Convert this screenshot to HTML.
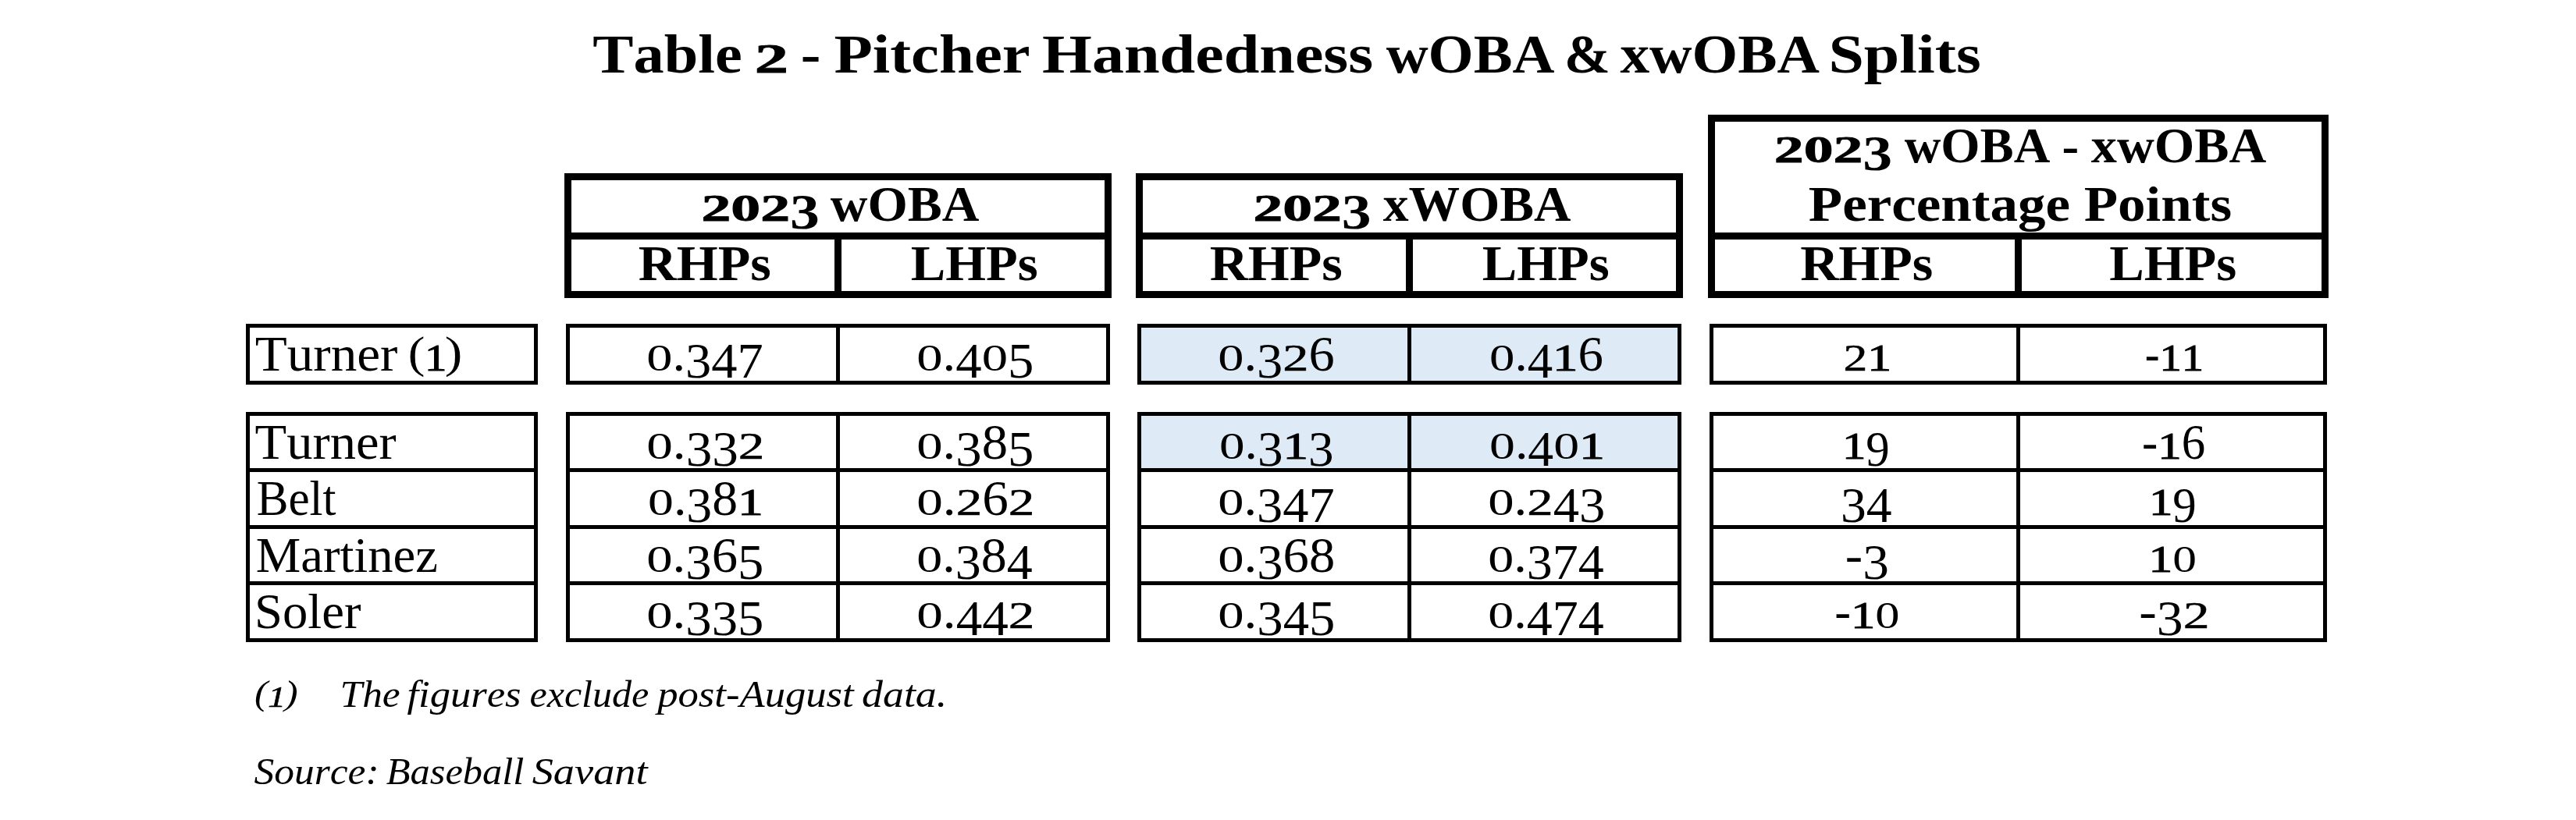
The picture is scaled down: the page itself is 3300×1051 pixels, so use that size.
<!DOCTYPE html>
<html><head><meta charset="utf-8"><title>Table 2 - Pitcher Handedness wOBA &amp; xwOBA Splits</title>
<style>
html,body{margin:0;padding:0;background:#fff;}
body{width:3300px;height:1051px;overflow:hidden;}
svg{display:block;will-change:transform;}
svg text{font-family:'Liberation Serif', 'DejaVu Serif', serif;fill:#000;}
svg text{white-space:pre;font-kerning:none;font-variant-ligatures:none;}.b{font-weight:bold;}.i{font-style:italic;}
</style></head><body>
<svg width="3300" height="1051" viewBox="0 0 3300 1051">
<rect x="0" y="0" width="3300" height="1051" fill="#fff"/>
<rect x="1457" y="415" width="697" height="78" fill="#DEEAF6"/>
<rect x="1457" y="528" width="697" height="74" fill="#DEEAF6"/>
<rect x="723" y="222" width="701" height="9"/>
<rect x="723" y="373" width="701" height="9"/>
<rect x="723" y="222" width="9" height="160"/>
<rect x="1415" y="222" width="9" height="160"/>
<rect x="723" y="298" width="701" height="9"/>
<rect x="1069" y="298" width="9" height="84"/>
<rect x="1455" y="222" width="701" height="9"/>
<rect x="1455" y="373" width="701" height="9"/>
<rect x="1455" y="222" width="9" height="160"/>
<rect x="2147" y="222" width="9" height="160"/>
<rect x="1455" y="298" width="701" height="9"/>
<rect x="1801" y="298" width="9" height="84"/>
<rect x="2188" y="147" width="795" height="9"/>
<rect x="2188" y="373" width="795" height="9"/>
<rect x="2188" y="147" width="9" height="235"/>
<rect x="2974" y="147" width="9" height="235"/>
<rect x="2188" y="298" width="795" height="9"/>
<rect x="2581" y="298" width="9" height="84"/>
<rect x="315" y="415" width="374" height="5"/>
<rect x="315" y="488" width="374" height="5"/>
<rect x="315" y="415" width="5" height="78"/>
<rect x="684" y="415" width="5" height="78"/>
<rect x="725" y="415" width="697" height="5"/>
<rect x="725" y="488" width="697" height="5"/>
<rect x="725" y="415" width="5" height="78"/>
<rect x="1417" y="415" width="5" height="78"/>
<rect x="1071" y="415" width="5" height="78"/>
<rect x="1457" y="415" width="697" height="5"/>
<rect x="1457" y="488" width="697" height="5"/>
<rect x="1457" y="415" width="5" height="78"/>
<rect x="2149" y="415" width="5" height="78"/>
<rect x="1803" y="415" width="5" height="78"/>
<rect x="2190" y="415" width="791" height="5"/>
<rect x="2190" y="488" width="791" height="5"/>
<rect x="2190" y="415" width="5" height="78"/>
<rect x="2976" y="415" width="5" height="78"/>
<rect x="2583" y="415" width="5" height="78"/>
<rect x="315" y="528" width="374" height="5"/>
<rect x="315" y="818" width="374" height="5"/>
<rect x="315" y="528" width="5" height="295"/>
<rect x="684" y="528" width="5" height="295"/>
<rect x="315" y="600" width="374" height="5"/>
<rect x="315" y="673" width="374" height="5"/>
<rect x="315" y="745" width="374" height="5"/>
<rect x="725" y="528" width="697" height="5"/>
<rect x="725" y="818" width="697" height="5"/>
<rect x="725" y="528" width="5" height="295"/>
<rect x="1417" y="528" width="5" height="295"/>
<rect x="725" y="600" width="697" height="5"/>
<rect x="725" y="673" width="697" height="5"/>
<rect x="725" y="745" width="697" height="5"/>
<rect x="1071" y="528" width="5" height="295"/>
<rect x="1457" y="528" width="697" height="5"/>
<rect x="1457" y="818" width="697" height="5"/>
<rect x="1457" y="528" width="5" height="295"/>
<rect x="2149" y="528" width="5" height="295"/>
<rect x="1457" y="600" width="697" height="5"/>
<rect x="1457" y="673" width="697" height="5"/>
<rect x="1457" y="745" width="697" height="5"/>
<rect x="1803" y="528" width="5" height="295"/>
<rect x="2190" y="528" width="791" height="5"/>
<rect x="2190" y="818" width="791" height="5"/>
<rect x="2190" y="528" width="5" height="295"/>
<rect x="2976" y="528" width="5" height="295"/>
<rect x="2190" y="600" width="791" height="5"/>
<rect x="2190" y="673" width="791" height="5"/>
<rect x="2190" y="745" width="791" height="5"/>
<rect x="2583" y="528" width="5" height="295"/>
<text class="b" font-size="70.7"><tspan x="759.38" y="92.8" textLength="210.92" lengthAdjust="spacingAndGlyphs">Table </tspan><tspan x="966.77" y="92.8" font-size="53.03" stroke="#000" stroke-width="0.8" textLength="43.25" lengthAdjust="spacingAndGlyphs">2</tspan><tspan x="1010.02" y="92.8" textLength="21.62" lengthAdjust="spacingAndGlyphs"> </tspan><tspan x="1025.88" y="92.8" textLength="44.89" lengthAdjust="spacingAndGlyphs">- </tspan><tspan x="1068.42" y="92.8" textLength="271.41" lengthAdjust="spacingAndGlyphs">Pitcher </tspan><tspan x="1335.1" y="92.8" textLength="444.62" lengthAdjust="spacingAndGlyphs">Handedness </tspan><tspan x="1775.68" y="92.8" textLength="234.44" lengthAdjust="spacingAndGlyphs">wOBA </tspan><tspan x="2004.03" y="92.8" textLength="76.47" lengthAdjust="spacingAndGlyphs">&amp; </tspan><tspan x="2075.41" y="92.8" textLength="274.4" lengthAdjust="spacingAndGlyphs">xwOBA </tspan><tspan x="2342.45" y="92.8" textLength="195.24" lengthAdjust="spacingAndGlyphs">Splits</tspan></text>
<text class="b" font-size="62.8"><tspan x="898.42" y="282.8" font-size="47.73" stroke="#000" stroke-width="0.8" textLength="37.87" lengthAdjust="spacingAndGlyphs">2</tspan><tspan x="936.29" y="282.8" font-size="47.73" stroke="#000" stroke-width="0.8" textLength="37.87" lengthAdjust="spacingAndGlyphs">0</tspan><tspan x="974.15" y="282.8" font-size="47.73" stroke="#000" stroke-width="0.8" textLength="37.87" lengthAdjust="spacingAndGlyphs">2</tspan><tspan x="1012.02" y="293.1" textLength="37.87" lengthAdjust="spacingAndGlyphs">3</tspan><tspan x="1049.89" y="282.8" textLength="18.93" lengthAdjust="spacingAndGlyphs"> </tspan><tspan x="1063.81" y="282.8" textLength="190.68" lengthAdjust="spacingAndGlyphs">wOBA</tspan></text>
<text class="b" font-size="62.8"><tspan x="1605.42" y="282.7" font-size="47.73" stroke="#000" stroke-width="0.8" textLength="37.82" lengthAdjust="spacingAndGlyphs">2</tspan><tspan x="1643.24" y="282.7" font-size="47.73" stroke="#000" stroke-width="0.8" textLength="37.82" lengthAdjust="spacingAndGlyphs">0</tspan><tspan x="1681.05" y="282.7" font-size="47.73" stroke="#000" stroke-width="0.8" textLength="37.82" lengthAdjust="spacingAndGlyphs">2</tspan><tspan x="1718.87" y="293" textLength="37.82" lengthAdjust="spacingAndGlyphs">3</tspan><tspan x="1756.69" y="282.7" textLength="18.91" lengthAdjust="spacingAndGlyphs"> </tspan><tspan x="1771.74" y="282.7" textLength="240.54" lengthAdjust="spacingAndGlyphs">xWOBA</tspan></text>
<text class="b" font-size="62.8"><tspan x="2272.82" y="207.7" font-size="47.73" stroke="#000" stroke-width="0.8" textLength="37.84" lengthAdjust="spacingAndGlyphs">2</tspan><tspan x="2310.66" y="207.7" font-size="47.73" stroke="#000" stroke-width="0.8" textLength="37.84" lengthAdjust="spacingAndGlyphs">0</tspan><tspan x="2348.5" y="207.7" font-size="47.73" stroke="#000" stroke-width="0.8" textLength="37.84" lengthAdjust="spacingAndGlyphs">2</tspan><tspan x="2386.35" y="218" textLength="37.84" lengthAdjust="spacingAndGlyphs">3</tspan><tspan x="2424.19" y="207.7" textLength="18.92" lengthAdjust="spacingAndGlyphs"> </tspan><tspan x="2439.71" y="207.7" textLength="202.71" lengthAdjust="spacingAndGlyphs">wOBA </tspan><tspan x="2641.62" y="207.7" textLength="37.93" lengthAdjust="spacingAndGlyphs">- </tspan><tspan x="2678.84" y="207.7" textLength="224.44" lengthAdjust="spacingAndGlyphs">xwOBA</tspan></text>
<text class="b" x="2316.89" y="283.2" font-size="62.8" textLength="542.15" lengthAdjust="spacingAndGlyphs">Percentage Points</text>
<text class="b" x="817.69" y="358.7" font-size="62.8" textLength="170.12" lengthAdjust="spacingAndGlyphs">RHPs</text>
<text class="b" x="1549.69" y="358.7" font-size="62.8" textLength="170.12" lengthAdjust="spacingAndGlyphs">RHPs</text>
<text class="b" x="2306.19" y="358.7" font-size="62.8" textLength="170.12" lengthAdjust="spacingAndGlyphs">RHPs</text>
<text class="b" x="1166.86" y="358.7" font-size="62.8" textLength="162.76" lengthAdjust="spacingAndGlyphs">LHPs</text>
<text class="b" x="1898.86" y="358.7" font-size="62.8" textLength="162.76" lengthAdjust="spacingAndGlyphs">LHPs</text>
<text class="b" x="2702.36" y="358.7" font-size="62.8" textLength="162.76" lengthAdjust="spacingAndGlyphs">LHPs</text>
<text font-size="62.8"><tspan x="326.69" y="475.1" textLength="199.49" lengthAdjust="spacingAndGlyphs">Turner </tspan><tspan x="522.84" y="471.33" font-size="57.78" textLength="21.65" lengthAdjust="spacingAndGlyphs">(</tspan><tspan x="543.91" y="475.1" font-size="48.98" stroke="#000" stroke-width="1" textLength="28.4" lengthAdjust="spacingAndGlyphs">1</tspan><tspan x="569.72" y="471.33" font-size="57.78" textLength="22.56" lengthAdjust="spacingAndGlyphs">)</tspan></text>
<text x="326.6" y="587.9" font-size="62.8" textLength="180.99" lengthAdjust="spacingAndGlyphs">Turner</text>
<text x="328.64" y="660.4" font-size="62.8" textLength="101.92" lengthAdjust="spacingAndGlyphs">Belt</text>
<text x="327.74" y="732.8" font-size="62.8" textLength="233.26" lengthAdjust="spacingAndGlyphs">Martinez</text>
<text x="326.07" y="805.3" font-size="62.8" textLength="136.49" lengthAdjust="spacingAndGlyphs">Soler</text>
<text font-size="62.8"><tspan x="828.27" y="475.4" font-size="48.98" textLength="33.21" lengthAdjust="spacingAndGlyphs">0</tspan><tspan x="861.48" y="475.4" textLength="16.6" lengthAdjust="spacingAndGlyphs">.</tspan><tspan x="878.08" y="484.38" textLength="33.21" lengthAdjust="spacingAndGlyphs">3</tspan><tspan x="911.29" y="484.38" textLength="33.21" lengthAdjust="spacingAndGlyphs">4</tspan><tspan x="944.5" y="484.38" textLength="33.21" lengthAdjust="spacingAndGlyphs">7</tspan></text>
<text font-size="62.8"><tspan x="1174.26" y="475.4" font-size="48.98" textLength="33.37" lengthAdjust="spacingAndGlyphs">0</tspan><tspan x="1207.62" y="475.4" textLength="16.68" lengthAdjust="spacingAndGlyphs">.</tspan><tspan x="1224.31" y="484.38" textLength="33.37" lengthAdjust="spacingAndGlyphs">4</tspan><tspan x="1257.67" y="475.4" font-size="48.98" textLength="33.37" lengthAdjust="spacingAndGlyphs">0</tspan><tspan x="1291.04" y="484.38" textLength="33.37" lengthAdjust="spacingAndGlyphs">5</tspan></text>
<text font-size="62.8"><tspan x="1560.27" y="475.4" font-size="48.98" textLength="33.22" lengthAdjust="spacingAndGlyphs">0</tspan><tspan x="1593.49" y="475.4" textLength="16.61" lengthAdjust="spacingAndGlyphs">.</tspan><tspan x="1610.11" y="484.38" textLength="33.22" lengthAdjust="spacingAndGlyphs">3</tspan><tspan x="1643.33" y="475.4" font-size="48.98" stroke="#000" stroke-width="0.5" textLength="33.22" lengthAdjust="spacingAndGlyphs">2</tspan><tspan x="1676.55" y="475.4" textLength="33.22" lengthAdjust="spacingAndGlyphs">6</tspan></text>
<text font-size="62.8"><tspan x="1908.08" y="475.4" font-size="48.98" textLength="32.42" lengthAdjust="spacingAndGlyphs">0</tspan><tspan x="1940.5" y="475.4" textLength="16.21" lengthAdjust="spacingAndGlyphs">.</tspan><tspan x="1956.71" y="484.38" textLength="32.42" lengthAdjust="spacingAndGlyphs">4</tspan><tspan x="1989.14" y="475.4" font-size="48.98" stroke="#000" stroke-width="1" textLength="32.42" lengthAdjust="spacingAndGlyphs">1</tspan><tspan x="2021.56" y="475.4" textLength="32.42" lengthAdjust="spacingAndGlyphs">6</tspan></text>
<text font-size="62.8"><tspan x="2361.49" y="475.4" font-size="48.98" stroke="#000" stroke-width="0.5" textLength="30.8" lengthAdjust="spacingAndGlyphs">2</tspan><tspan x="2392.3" y="475.4" font-size="48.98" stroke="#000" stroke-width="1" textLength="30.8" lengthAdjust="spacingAndGlyphs">1</tspan></text>
<text font-size="62.8"><tspan x="2747.8" y="475.4" textLength="18.81" lengthAdjust="spacingAndGlyphs">-</tspan><tspan x="2766.61" y="475.4" font-size="48.98" stroke="#000" stroke-width="1" textLength="28.24" lengthAdjust="spacingAndGlyphs">1</tspan><tspan x="2794.85" y="475.4" font-size="48.98" stroke="#000" stroke-width="1" textLength="28.24" lengthAdjust="spacingAndGlyphs">1</tspan></text>
<text font-size="62.8"><tspan x="828.24" y="587.9" font-size="48.98" textLength="33.62" lengthAdjust="spacingAndGlyphs">0</tspan><tspan x="861.86" y="587.9" textLength="16.81" lengthAdjust="spacingAndGlyphs">.</tspan><tspan x="878.66" y="596.88" textLength="33.62" lengthAdjust="spacingAndGlyphs">3</tspan><tspan x="912.28" y="596.88" textLength="33.62" lengthAdjust="spacingAndGlyphs">3</tspan><tspan x="945.89" y="587.9" font-size="48.98" stroke="#000" stroke-width="0.5" textLength="33.62" lengthAdjust="spacingAndGlyphs">2</tspan></text>
<text font-size="62.8"><tspan x="1174.26" y="587.9" font-size="48.98" textLength="33.37" lengthAdjust="spacingAndGlyphs">0</tspan><tspan x="1207.62" y="587.9" textLength="16.68" lengthAdjust="spacingAndGlyphs">.</tspan><tspan x="1224.31" y="596.88" textLength="33.37" lengthAdjust="spacingAndGlyphs">3</tspan><tspan x="1257.67" y="587.9" textLength="33.37" lengthAdjust="spacingAndGlyphs">8</tspan><tspan x="1291.04" y="596.88" textLength="33.37" lengthAdjust="spacingAndGlyphs">5</tspan></text>
<text font-size="62.8"><tspan x="1562.07" y="587.9" font-size="48.98" textLength="32.56" lengthAdjust="spacingAndGlyphs">0</tspan><tspan x="1594.63" y="587.9" textLength="16.28" lengthAdjust="spacingAndGlyphs">.</tspan><tspan x="1610.91" y="596.88" textLength="32.56" lengthAdjust="spacingAndGlyphs">3</tspan><tspan x="1643.47" y="587.9" font-size="48.98" stroke="#000" stroke-width="1" textLength="32.56" lengthAdjust="spacingAndGlyphs">1</tspan><tspan x="1676.03" y="596.88" textLength="32.56" lengthAdjust="spacingAndGlyphs">3</tspan></text>
<text font-size="62.8"><tspan x="1908.05" y="587.9" font-size="48.98" textLength="32.88" lengthAdjust="spacingAndGlyphs">0</tspan><tspan x="1940.92" y="587.9" textLength="16.44" lengthAdjust="spacingAndGlyphs">.</tspan><tspan x="1957.36" y="596.88" textLength="32.88" lengthAdjust="spacingAndGlyphs">4</tspan><tspan x="1990.24" y="587.9" font-size="48.98" textLength="32.88" lengthAdjust="spacingAndGlyphs">0</tspan><tspan x="2023.12" y="587.9" font-size="48.98" stroke="#000" stroke-width="1" textLength="32.88" lengthAdjust="spacingAndGlyphs">1</tspan></text>
<text font-size="62.8"><tspan x="2359.95" y="587.9" font-size="48.98" stroke="#000" stroke-width="1" textLength="30.42" lengthAdjust="spacingAndGlyphs">1</tspan><tspan x="2390.37" y="596.88" textLength="30.42" lengthAdjust="spacingAndGlyphs">9</tspan></text>
<text font-size="62.8"><tspan x="2744.04" y="587.9" textLength="20.25" lengthAdjust="spacingAndGlyphs">-</tspan><tspan x="2764.3" y="587.9" font-size="48.98" stroke="#000" stroke-width="1" textLength="30.41" lengthAdjust="spacingAndGlyphs">1</tspan><tspan x="2794.7" y="587.9" textLength="30.41" lengthAdjust="spacingAndGlyphs">6</tspan></text>
<text font-size="62.8"><tspan x="830.05" y="660.4" font-size="48.98" textLength="32.88" lengthAdjust="spacingAndGlyphs">0</tspan><tspan x="862.92" y="660.4" textLength="16.44" lengthAdjust="spacingAndGlyphs">.</tspan><tspan x="879.36" y="669.38" textLength="32.88" lengthAdjust="spacingAndGlyphs">3</tspan><tspan x="912.24" y="660.4" textLength="32.88" lengthAdjust="spacingAndGlyphs">8</tspan><tspan x="945.12" y="660.4" font-size="48.98" stroke="#000" stroke-width="1" textLength="32.88" lengthAdjust="spacingAndGlyphs">1</tspan></text>
<text font-size="62.8"><tspan x="1174.24" y="660.4" font-size="48.98" textLength="33.62" lengthAdjust="spacingAndGlyphs">0</tspan><tspan x="1207.86" y="660.4" textLength="16.81" lengthAdjust="spacingAndGlyphs">.</tspan><tspan x="1224.66" y="660.4" font-size="48.98" stroke="#000" stroke-width="0.5" textLength="33.62" lengthAdjust="spacingAndGlyphs">2</tspan><tspan x="1258.28" y="660.4" textLength="33.62" lengthAdjust="spacingAndGlyphs">6</tspan><tspan x="1291.89" y="660.4" font-size="48.98" stroke="#000" stroke-width="0.5" textLength="33.62" lengthAdjust="spacingAndGlyphs">2</tspan></text>
<text font-size="62.8"><tspan x="1560.27" y="660.4" font-size="48.98" textLength="33.21" lengthAdjust="spacingAndGlyphs">0</tspan><tspan x="1593.48" y="660.4" textLength="16.6" lengthAdjust="spacingAndGlyphs">.</tspan><tspan x="1610.08" y="669.38" textLength="33.21" lengthAdjust="spacingAndGlyphs">3</tspan><tspan x="1643.29" y="669.38" textLength="33.21" lengthAdjust="spacingAndGlyphs">4</tspan><tspan x="1676.5" y="669.38" textLength="33.21" lengthAdjust="spacingAndGlyphs">7</tspan></text>
<text font-size="62.8"><tspan x="1906.26" y="660.4" font-size="48.98" textLength="33.37" lengthAdjust="spacingAndGlyphs">0</tspan><tspan x="1939.62" y="660.4" textLength="16.68" lengthAdjust="spacingAndGlyphs">.</tspan><tspan x="1956.31" y="660.4" font-size="48.98" stroke="#000" stroke-width="0.5" textLength="33.37" lengthAdjust="spacingAndGlyphs">2</tspan><tspan x="1989.67" y="669.38" textLength="33.37" lengthAdjust="spacingAndGlyphs">4</tspan><tspan x="2023.04" y="669.38" textLength="33.37" lengthAdjust="spacingAndGlyphs">3</tspan></text>
<text font-size="62.8"><tspan x="2357.91" y="669.38" textLength="32.83" lengthAdjust="spacingAndGlyphs">3</tspan><tspan x="2390.74" y="669.38" textLength="32.83" lengthAdjust="spacingAndGlyphs">4</tspan></text>
<text font-size="62.8"><tspan x="2752.95" y="660.4" font-size="48.98" stroke="#000" stroke-width="1" textLength="30.42" lengthAdjust="spacingAndGlyphs">1</tspan><tspan x="2783.37" y="669.38" textLength="30.42" lengthAdjust="spacingAndGlyphs">9</tspan></text>
<text font-size="62.8"><tspan x="828.26" y="732.8" font-size="48.98" textLength="33.37" lengthAdjust="spacingAndGlyphs">0</tspan><tspan x="861.62" y="732.8" textLength="16.68" lengthAdjust="spacingAndGlyphs">.</tspan><tspan x="878.31" y="741.78" textLength="33.37" lengthAdjust="spacingAndGlyphs">3</tspan><tspan x="911.67" y="732.8" textLength="33.37" lengthAdjust="spacingAndGlyphs">6</tspan><tspan x="945.04" y="741.78" textLength="33.37" lengthAdjust="spacingAndGlyphs">5</tspan></text>
<text font-size="62.8"><tspan x="1174.29" y="732.8" font-size="48.98" textLength="33.01" lengthAdjust="spacingAndGlyphs">0</tspan><tspan x="1207.3" y="732.8" textLength="16.51" lengthAdjust="spacingAndGlyphs">.</tspan><tspan x="1223.8" y="741.78" textLength="33.01" lengthAdjust="spacingAndGlyphs">3</tspan><tspan x="1256.81" y="732.8" textLength="33.01" lengthAdjust="spacingAndGlyphs">8</tspan><tspan x="1289.82" y="741.78" textLength="33.01" lengthAdjust="spacingAndGlyphs">4</tspan></text>
<text font-size="62.8"><tspan x="1560.26" y="732.8" font-size="48.98" textLength="33.35" lengthAdjust="spacingAndGlyphs">0</tspan><tspan x="1593.61" y="732.8" textLength="16.68" lengthAdjust="spacingAndGlyphs">.</tspan><tspan x="1610.29" y="741.78" textLength="33.35" lengthAdjust="spacingAndGlyphs">3</tspan><tspan x="1643.64" y="732.8" textLength="33.35" lengthAdjust="spacingAndGlyphs">6</tspan><tspan x="1676.99" y="732.8" textLength="33.35" lengthAdjust="spacingAndGlyphs">8</tspan></text>
<text font-size="62.8"><tspan x="1906.29" y="732.8" font-size="48.98" textLength="33.01" lengthAdjust="spacingAndGlyphs">0</tspan><tspan x="1939.3" y="732.8" textLength="16.51" lengthAdjust="spacingAndGlyphs">.</tspan><tspan x="1955.8" y="741.78" textLength="33.01" lengthAdjust="spacingAndGlyphs">3</tspan><tspan x="1988.81" y="741.78" textLength="33.01" lengthAdjust="spacingAndGlyphs">7</tspan><tspan x="2021.82" y="741.78" textLength="33.01" lengthAdjust="spacingAndGlyphs">4</tspan></text>
<text font-size="62.8"><tspan x="2363.8" y="732.8" textLength="22.44" lengthAdjust="spacingAndGlyphs">-</tspan><tspan x="2386.24" y="741.78" textLength="33.69" lengthAdjust="spacingAndGlyphs">3</tspan></text>
<text font-size="62.8"><tspan x="2752.55" y="732.8" font-size="48.98" stroke="#000" stroke-width="1" textLength="30.72" lengthAdjust="spacingAndGlyphs">1</tspan><tspan x="2783.27" y="732.8" font-size="48.98" textLength="30.72" lengthAdjust="spacingAndGlyphs">0</tspan></text>
<text font-size="62.8"><tspan x="828.26" y="805.3" font-size="48.98" textLength="33.37" lengthAdjust="spacingAndGlyphs">0</tspan><tspan x="861.62" y="805.3" textLength="16.68" lengthAdjust="spacingAndGlyphs">.</tspan><tspan x="878.31" y="814.28" textLength="33.37" lengthAdjust="spacingAndGlyphs">3</tspan><tspan x="911.67" y="814.28" textLength="33.37" lengthAdjust="spacingAndGlyphs">3</tspan><tspan x="945.04" y="814.28" textLength="33.37" lengthAdjust="spacingAndGlyphs">5</tspan></text>
<text font-size="62.8"><tspan x="1174.24" y="805.3" font-size="48.98" textLength="33.62" lengthAdjust="spacingAndGlyphs">0</tspan><tspan x="1207.86" y="805.3" textLength="16.81" lengthAdjust="spacingAndGlyphs">.</tspan><tspan x="1224.66" y="814.28" textLength="33.62" lengthAdjust="spacingAndGlyphs">4</tspan><tspan x="1258.28" y="814.28" textLength="33.62" lengthAdjust="spacingAndGlyphs">4</tspan><tspan x="1291.89" y="805.3" font-size="48.98" stroke="#000" stroke-width="0.5" textLength="33.62" lengthAdjust="spacingAndGlyphs">2</tspan></text>
<text font-size="62.8"><tspan x="1560.26" y="805.3" font-size="48.98" textLength="33.37" lengthAdjust="spacingAndGlyphs">0</tspan><tspan x="1593.62" y="805.3" textLength="16.68" lengthAdjust="spacingAndGlyphs">.</tspan><tspan x="1610.31" y="814.28" textLength="33.37" lengthAdjust="spacingAndGlyphs">3</tspan><tspan x="1643.67" y="814.28" textLength="33.37" lengthAdjust="spacingAndGlyphs">4</tspan><tspan x="1677.04" y="814.28" textLength="33.37" lengthAdjust="spacingAndGlyphs">5</tspan></text>
<text font-size="62.8"><tspan x="1906.29" y="805.3" font-size="48.98" textLength="33.01" lengthAdjust="spacingAndGlyphs">0</tspan><tspan x="1939.3" y="805.3" textLength="16.51" lengthAdjust="spacingAndGlyphs">.</tspan><tspan x="1955.8" y="814.28" textLength="33.01" lengthAdjust="spacingAndGlyphs">4</tspan><tspan x="1988.81" y="814.28" textLength="33.01" lengthAdjust="spacingAndGlyphs">7</tspan><tspan x="2021.82" y="814.28" textLength="33.01" lengthAdjust="spacingAndGlyphs">4</tspan></text>
<text font-size="62.8"><tspan x="2350.13" y="805.3" textLength="20.84" lengthAdjust="spacingAndGlyphs">-</tspan><tspan x="2370.96" y="805.3" font-size="48.98" stroke="#000" stroke-width="1" textLength="31.28" lengthAdjust="spacingAndGlyphs">1</tspan><tspan x="2402.25" y="805.3" font-size="48.98" textLength="31.28" lengthAdjust="spacingAndGlyphs">0</tspan></text>
<text font-size="62.8"><tspan x="2740.29" y="805.3" textLength="22.55" lengthAdjust="spacingAndGlyphs">-</tspan><tspan x="2762.83" y="814.28" textLength="33.85" lengthAdjust="spacingAndGlyphs">3</tspan><tspan x="2796.68" y="805.3" font-size="48.98" stroke="#000" stroke-width="0.5" textLength="33.85" lengthAdjust="spacingAndGlyphs">2</tspan></text>
<text class="i" font-size="48.9"><tspan x="325.91" y="903.07" font-size="44.99" textLength="16.98" lengthAdjust="spacingAndGlyphs">(</tspan><tspan x="343.18" y="906" font-size="37.65" stroke="#000" stroke-width="0.6" textLength="22.69" lengthAdjust="spacingAndGlyphs">1</tspan><tspan x="364.64" y="903.07" font-size="44.99" textLength="17.15" lengthAdjust="spacingAndGlyphs">)</tspan></text>
<text class="i" font-size="48.9"><tspan x="435.64" y="906" textLength="89.85" lengthAdjust="spacingAndGlyphs">The </tspan><tspan x="521.41" y="906" textLength="159.34" lengthAdjust="spacingAndGlyphs">figures </tspan><tspan x="678.46" y="906" textLength="165.38" lengthAdjust="spacingAndGlyphs">exclude </tspan><tspan x="842.19" y="906" textLength="264.72" lengthAdjust="spacingAndGlyphs">post-August </tspan><tspan x="1104.07" y="906" textLength="109.19" lengthAdjust="spacingAndGlyphs">data.</tspan></text>
<text class="i" font-size="48.9"><tspan x="325.5" y="1005.4" textLength="172.94" lengthAdjust="spacingAndGlyphs">Source: </tspan><tspan x="494.73" y="1005.4" textLength="189.19" lengthAdjust="spacingAndGlyphs">Baseball </tspan><tspan x="681.66" y="1005.4" textLength="147.95" lengthAdjust="spacingAndGlyphs">Savant</tspan></text>
</svg>
</body></html>
